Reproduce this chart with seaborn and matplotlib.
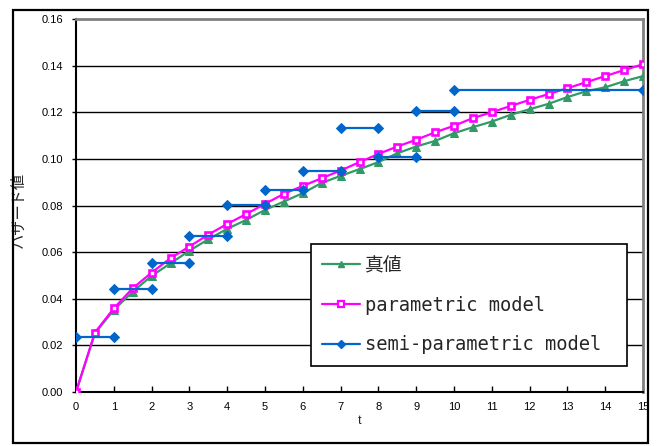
"""
Hazard curve: true value vs parametric and semi-parametric estimates
"""

import numpy as np
import pandas as pd
import seaborn as sns
import matplotlib.pyplot as plt
from matplotlib.lines import Line2D
from matplotlib.patches import Rectangle

# --- data ---
t_grid = [0, 0.5, 1, 1.5, 2, 2.5, 3, 3.5, 4, 4.5, 5, 5.5, 6, 6.5, 7, 7.5,
          8, 8.5, 9, 9.5, 10, 10.5, 11, 11.5, 12, 12.5, 13, 13.5, 14, 14.5, 15]
true_vals = [0, 0.0252, 0.0352, 0.0430, 0.0498, 0.0552, 0.0606, 0.0655, 0.0700,
             0.0738, 0.0781, 0.0817, 0.0853, 0.0897, 0.0927, 0.0956, 0.0986,
             0.1024, 0.1053, 0.1077, 0.1110, 0.1136, 0.1160, 0.1189, 0.1213,
             0.1236, 0.1265, 0.1290, 0.1307, 0.1333, 0.1355]
param_vals = [0, 0.0255, 0.0359, 0.0445, 0.0512, 0.0574, 0.0624, 0.0675, 0.0721,
              0.0763, 0.0807, 0.0850, 0.0884, 0.0917, 0.0950, 0.0986, 0.1021,
              0.1053, 0.1082, 0.1114, 0.1142, 0.1175, 0.1200, 0.1227, 0.1253,
              0.1278, 0.1303, 0.1329, 0.1355, 0.1381, 0.1406]
step_start = [0, 1, 2, 3, 4, 5, 6, 7, 8, 9, 10]
step_end = [1, 2, 3, 4, 5, 6, 7, 8, 9, 10, 15]
semi_vals = [0.0237, 0.0442, 0.0552, 0.0671, 0.0803, 0.0867, 0.0946,
             0.1133, 0.1007, 0.1207, 0.1296]

labels = ['真値', 'parametric model', 'semi-parametric model']
colors = ['#339966', '#FF00FF', '#0066CC']
x_ticks = list(range(0, 16))
y_ticks = [0.00, 0.02, 0.04, 0.06, 0.08, 0.10, 0.12, 0.14, 0.16]

sns.set_theme(style='white')
plt.rcParams['font.family'] = ['Liberation Sans', 'Noto Sans CJK JP', 'DejaVu Sans']

df_curves = pd.DataFrame({'t': t_grid, 'true': true_vals, 'param': param_vals})
df_semi = pd.DataFrame({
    't': step_start + step_end,
    'h': semi_vals + semi_vals,
    'seg': list(range(len(step_start))) * 2,
})

fig = plt.figure(figsize=(6.57, 4.46), dpi=100)
ax = fig.add_axes([76 / 657, 1 - 392 / 446, 567 / 657, 373 / 446])

# outer chart border
fig.patches.append(Rectangle((13 / 657, 1 - 443 / 446), 635 / 657, 433 / 446,
                             transform=fig.transFigure, fill=False,
                             edgecolor='black', linewidth=1.6))

# horizontal gridlines
for y in y_ticks[1:-1]:
    ax.axhline(y, color='black', linewidth=1.0, zorder=1)

sns.lineplot(data=df_curves, x='t', y='true', ax=ax, color=colors[0],
             marker='^', markersize=5.5, markeredgecolor=colors[0],
             linewidth=1.6, legend=False, zorder=3)
sns.lineplot(data=df_curves, x='t', y='param', ax=ax, color=colors[1],
             marker='s', markersize=4.5, markerfacecolor='white',
             markeredgecolor=colors[1], markeredgewidth=1.9,
             linewidth=1.6, legend=False, zorder=4)
sns.lineplot(data=df_semi, x='t', y='h', units='seg', estimator=None, ax=ax,
             color=colors[2], marker='D', markersize=5,
             markeredgecolor=colors[2], linewidth=1.6, legend=False, zorder=5)

ax.set_xlim(0, 15)
ax.set_ylim(0, 0.16)
ax.set_xticks(x_ticks)
ax.set_yticks(y_ticks)
ax.set_yticklabels([f'{v:.2f}' for v in y_ticks])
ax.tick_params(axis='x', direction='in', length=4, width=1, labelsize=8,
               pad=7, bottom=True, colors='black')
ax.tick_params(axis='y', direction='out', length=3, width=1, labelsize=8,
               pad=6, left=True, colors='black')
ax.set_xlabel('t', fontsize=9, labelpad=2)
ax.set_ylabel('ハザード値', fontsize=11,
              family=['Noto Sans CJK JP', 'DejaVu Sans'])
ax.yaxis.set_label_coords(-0.087, 0.489)

for side in ['left', 'bottom']:
    ax.spines[side].set_color('black')
    ax.spines[side].set_linewidth(1.5)
for side in ['top', 'right']:
    ax.spines[side].set_color('#808080')
    ax.spines[side].set_linewidth(2)

handles = [
    Line2D([], [], color=colors[0], marker='^', markersize=5, linewidth=1.6),
    Line2D([], [], color=colors[1], marker='s', markersize=4,
           markerfacecolor='white', markeredgewidth=1.6, linewidth=1.6),
    Line2D([], [], color=colors[2], marker='D', markersize=4, linewidth=1.6),
]
leg = ax.legend(handles, labels, loc='lower left',
                bbox_to_anchor=(0.414, 0.07, 0.558, 0.321), mode='expand',
                borderaxespad=0, fancybox=False, framealpha=1,
                edgecolor='black', handlelength=2.0, handletextpad=0.25,
                borderpad=0.62, labelspacing=1.1,
                prop={'family': ['DejaVu Sans Mono', 'Noto Sans CJK JP'],
                      'size': 13.5})
leg.get_frame().set_linewidth(1.2)
leg.set_zorder(10)

plt.savefig('out.png', dpi=100)
plt.close()
